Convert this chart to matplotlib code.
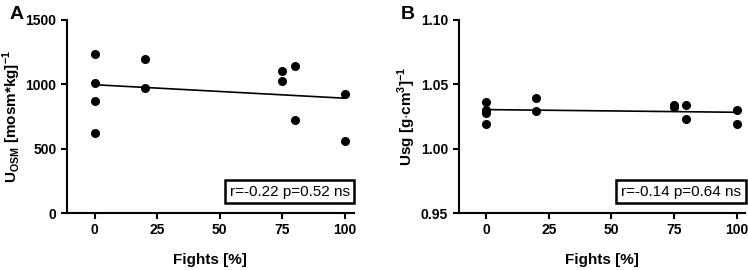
import numpy as np
import matplotlib
matplotlib.use("Agg")
import matplotlib.pyplot as plt

plt.rcParams['font.family'] = ['Liberation Sans', 'DejaVu Sans']
plt.rcParams['mathtext.fontset'] = 'custom'
plt.rcParams['mathtext.rm'] = 'Liberation Sans:bold'
plt.rcParams['mathtext.bf'] = 'Liberation Sans:bold'

# Panel A: urine osmolality vs fights
fights_a = [0, 0, 0, 0, 20, 20, 75, 75, 80, 80, 100, 100]
uosm = [1233, 1011, 869, 618, 1197, 975, 1102, 1029, 1143, 721, 928, 561]

# Panel B: urine specific gravity vs fights
fights_b = [0, 0, 0, 0, 20, 20, 75, 75, 80, 80, 100, 100]
usg = [1.036, 1.030, 1.028, 1.019, 1.039, 1.029, 1.034, 1.032, 1.034, 1.023, 1.030, 1.019]

stats_a = "r=-0.22 p=0.52 ns"
stats_b = "r=-0.14 p=0.64 ns"


def draw_panel(ax, x, y, ylim, yticks, yticklabels, ylabel, stats, letter):
    x = np.array(x, dtype=float)
    y = np.array(y, dtype=float)
    ax.plot(x, y, 'o', color='black', markersize=5.5, zorder=3)

    slope, intercept = np.polyfit(x, y, 1)
    xs = np.array([0, 100])
    ax.plot(xs, slope * xs + intercept, color='black', lw=1.2)

    ax.set_xlim(-11, 103.5)
    ax.set_ylim(*ylim)
    ax.set_xticks([0, 25, 50, 75, 100])
    ax.set_yticks(yticks)
    ax.set_yticklabels(yticklabels)
    for s in ['top', 'right']:
        ax.spines[s].set_visible(False)
    for s in ['left', 'bottom']:
        ax.spines[s].set_linewidth(1.5)
    ax.tick_params(width=1.5, length=4, labelsize=10, direction='out')
    for lbl in ax.get_xticklabels() + ax.get_yticklabels():
        lbl.set_fontweight('bold')

    ax.set_xlabel('Fights [%]', fontsize=11, fontweight='bold', labelpad=11)
    ax.set_ylabel(ylabel, fontsize=11, fontweight='bold', labelpad=2)

    ax.text(0.985, 0.075, stats, transform=ax.transAxes, ha='right', va='bottom',
            fontsize=11,
            bbox=dict(boxstyle='square,pad=0.3', facecolor='white',
                      edgecolor='black', linewidth=1.8))
    ax.text(-0.2, 1.03, letter, transform=ax.transAxes, fontsize=14,
            fontweight='bold', ha='left', va='center')


fig = plt.figure(figsize=(7.48, 2.70), dpi=100)
ax_a = fig.add_axes([0.0896, 0.211, 0.3834, 0.715])
ax_b = fig.add_axes([0.613, 0.211, 0.3834, 0.715])

draw_panel(ax_a, fights_a, uosm, (0, 1500), [0, 500, 1000, 1500],
           ['0', '500', '1000', '1500'],
           r'U$_{\mathrm{OSM}}$ [mosm*kg]$^{\mathrm{-1}}$', stats_a, 'A')
draw_panel(ax_b, fights_b, usg, (0.95, 1.10), [0.95, 1.00, 1.05, 1.10],
           ['0.95', '1.00', '1.05', '1.10'],
           r'Usg [g$\cdot$cm$^{\mathrm{3}}$]$^{\mathrm{-1}}$', stats_b, 'B')

fig.savefig('out.png', dpi=100)
